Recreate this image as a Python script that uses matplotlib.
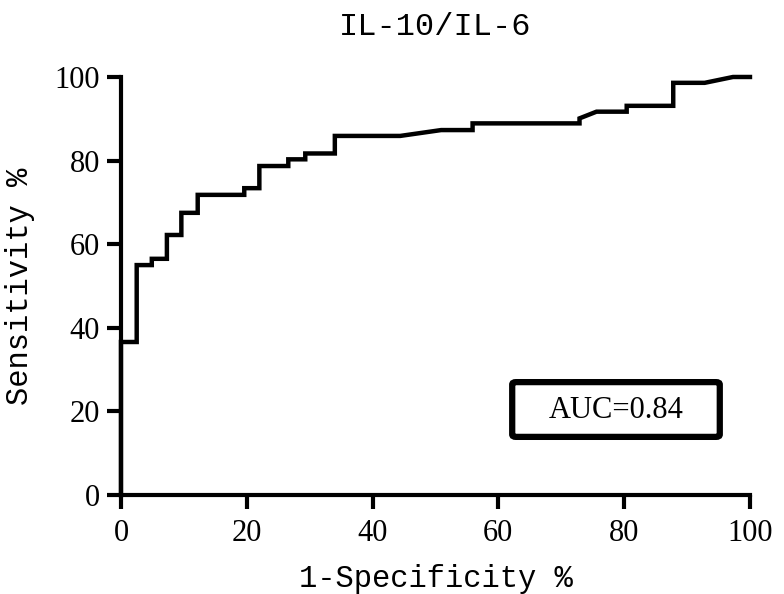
import matplotlib.pyplot as plt
from matplotlib.patches import FancyBboxPatch

# ROC curve vertices (1-Specificity %, Sensitivity %)
fpr = [0, 0, 2.5, 2.5, 4.9, 4.9, 7.3, 7.3, 9.6, 9.6, 12.2, 12.2, 19.6, 19.6,
       22.0, 22.0, 26.6, 26.6, 29.3, 29.3, 34.0, 34.0, 44.4, 50.9, 55.9, 55.9,
       72.9, 72.9, 75.6, 80.4, 80.4, 87.8, 87.8, 92.8, 97.3, 100]
tpr = [0, 36.6, 36.6, 55.0, 55.0, 56.5, 56.5, 62.2, 62.2, 67.5, 67.5, 71.8,
       71.8, 73.4, 73.4, 78.7, 78.7, 80.3, 80.3, 81.7, 81.7, 85.9, 85.9, 87.3,
       87.3, 88.9, 88.9, 90.1, 91.7, 91.7, 93.1, 93.1, 98.6, 98.6, 100, 100]
xticks = [0, 20, 40, 60, 80, 100]
yticks = [0, 20, 40, 60, 80, 100]
auc_text = "AUC=0.84"

plt.rcParams['font.family'] = ['Liberation Serif', 'DejaVu Serif']

fig = plt.figure(figsize=(7.84, 5.94), dpi=100)
ax = fig.add_axes([0.1543, 0.1667, 0.8023, 0.7037])

ax.plot(fpr, tpr, color='black', lw=3.2, solid_joinstyle='miter', clip_on=False)

ax.set_xlim(0, 100)
ax.set_ylim(0, 100)
ax.set_xticks(xticks)
ax.set_yticks(yticks)
ax.spines['top'].set_visible(False)
ax.spines['right'].set_visible(False)
for s in ['left', 'bottom']:
    ax.spines[s].set_linewidth(3)
ax.tick_params(width=3, length=10, labelsize=22)
ax.tick_params(axis='x', pad=7)
ax.tick_params(axis='y', pad=5)

ax.set_xlabel("1-Specificity %", fontsize=22, family='Liberation Mono', labelpad=12)
ax.set_ylabel("Sensitivity %", fontsize=22, family='Liberation Mono', labelpad=14)
ax.set_title("IL-10/IL-6", fontsize=23, family='Liberation Mono', pad=30)

# AUC annotation box
box = FancyBboxPatch((0.622, 0.139), 0.330, 0.131, transform=ax.transAxes,
                     boxstyle='round,pad=0,rounding_size=0.006',
                     fc='white', ec='black', lw=4.5)
ax.add_patch(box)
ax.text(0.787, 0.203, auc_text, fontsize=22, ha='center', va='center',
        transform=ax.transAxes)

fig.savefig("out.png", dpi=100)
